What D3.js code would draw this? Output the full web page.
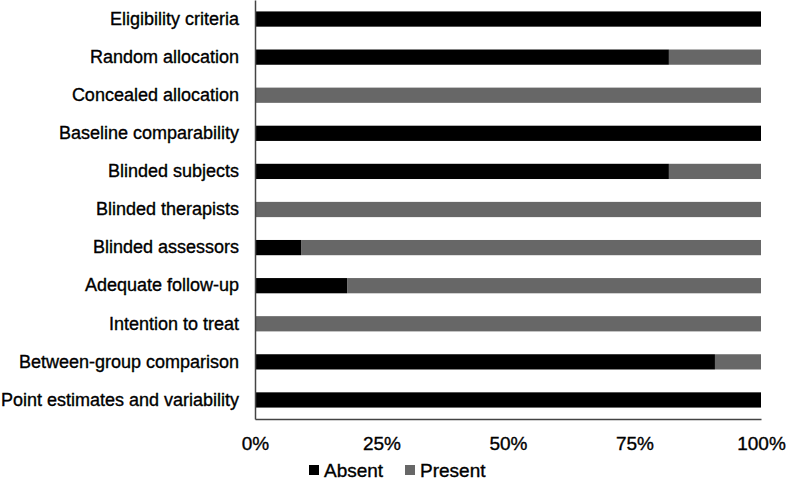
<!DOCTYPE html>
<html>
<head>
<meta charset="utf-8">
<script src="https://cdn.jsdelivr.net/npm/d3@7"></script>
<style>
  body { margin: 0; background: #fff; }
  text { font-family: "Liberation Sans", Arial, sans-serif; fill: #000; stroke: #000; stroke-width: 0.35px; }
</style>
</head>
<body>
<div id="chart"></div>
<script>
// Chart data (percent of studies)
const criteria = [
  "Eligibility criteria", "Random allocation", "Concealed allocation",
  "Baseline comparability", "Blinded subjects", "Blinded therapists",
  "Blinded assessors", "Adequate follow-up", "Intention to treat",
  "Between-group comparison", "Point estimates and variability"
];
const absent  = [100, 81.8, 0, 100, 81.8, 0, 9.1, 18.2, 0, 90.9, 100];
const present = [0, 18.2, 100, 0, 18.2, 100, 90.9, 81.8, 100, 9.1, 0];
const seriesNames = ["Absent", "Present"];
const tickValues = [0, 25, 50, 75, 100];

const colors = { Absent: "#000000", Present: "#676767" };

const W = 786, H = 486;
const margin = { top: 0, right: 25, bottom: 67, left: 255 };
const width = W - margin.left - margin.right,
      height = H - margin.top - margin.bottom;

const svg = d3.select("#chart").append("svg")
    .attr("width", W)
    .attr("height", H)
  .append("g")
    .attr("transform", `translate(${margin.left},${margin.top})`);

const x = d3.scaleLinear().domain([0, 100]).range([0, width]);
const y = d3.scaleBand().domain(criteria).range([0, height])
    .paddingInner(0.6).paddingOuter(0.3);

// Build rows for the stack
const rows = criteria.map((c, i) => ({ name: c, Absent: absent[i], Present: present[i] }));
const stacked = d3.stack().keys(seriesNames)(rows);

svg.selectAll(".series")
  .data(stacked)
  .enter().append("g")
    .attr("class", "series")
    .attr("fill", d => colors[d.key])
  .selectAll("rect")
  .data(d => d)
  .enter().append("rect")
    .attr("x", d => x(d[0]))
    .attr("y", d => y(d.data.name))
    .attr("width", d => x(d[1]) - x(d[0]))
    .attr("height", y.bandwidth());

// Axes
const xAxis = d3.axisBottom(x)
    .tickValues(tickValues)
    .tickFormat(d => d + "%")
    .tickSize(0)
    .tickPadding(18);

const gx = svg.append("g")
    .attr("transform", `translate(0,${height})`)
    .call(xAxis);
gx.select(".domain").attr("stroke", "#444").attr("stroke-width", 1.5);
gx.selectAll("text").style("font-size", "19px");

const gy = svg.append("g")
    .call(d3.axisLeft(y).tickSize(0).tickPadding(16));
gy.select(".domain").attr("stroke", "#444").attr("stroke-width", 1.5);
gy.selectAll("text").style("font-size", "18px");

// Legend
const legend = svg.append("g")
    .attr("transform", `translate(0,${height + 58})`);
const legendX = [54, 150];
seriesNames.forEach((s, i) => {
  const g = legend.append("g").attr("transform", `translate(${legendX[i]},0)`);
  g.append("rect")
      .attr("x", 0).attr("y", -12)
      .attr("width", 10).attr("height", 10)
      .attr("fill", colors[s]);
  g.append("text")
      .attr("x", 15).attr("y", 0)
      .style("font-size", "19px")
      .text(s);
});
</script>
</body>
</html>
